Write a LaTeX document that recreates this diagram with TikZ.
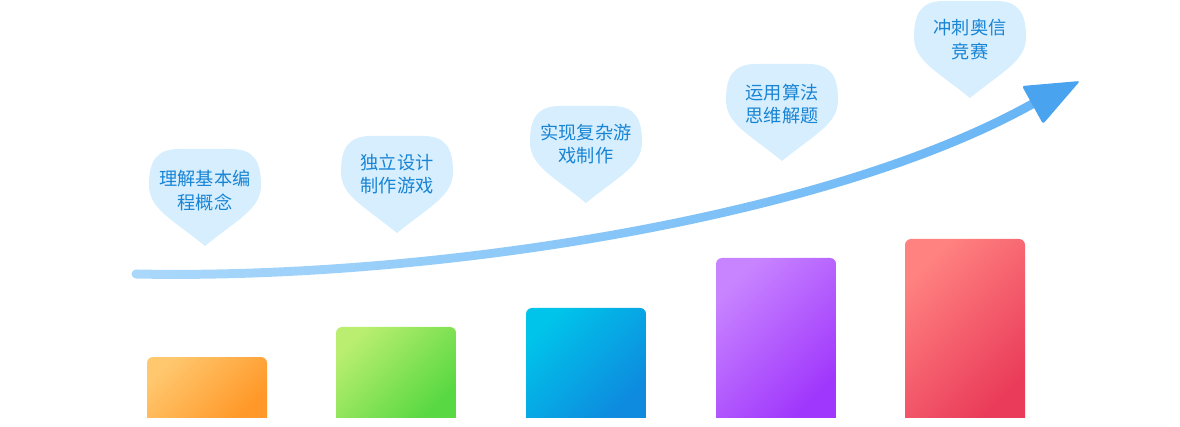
\documentclass[tikz,border=0pt]{standalone}
\usepackage{fontspec}
\usetikzlibrary{calc}
\newfontfamily\cjk{Noto Sans CJK SC}
\definecolor{bubblefill}{RGB}{214,238,254}
\definecolor{bubbletxt}{RGB}{24,132,212}
\definecolor{curveL}{RGB}{170,216,251}
\definecolor{curveR}{RGB}{104,181,245}
\definecolor{arrowc}{RGB}{74,163,238}
\definecolor{oA}{RGB}{255,199,110}\definecolor{oB}{RGB}{255,152,40}
\definecolor{gA}{RGB}{185,238,112}\definecolor{gB}{RGB}{88,216,66}
\definecolor{cA}{RGB}{0,196,234}\definecolor{cB}{RGB}{14,138,222}
\definecolor{pA}{RGB}{200,132,255}\definecolor{pB}{RGB}{160,55,252}
\definecolor{rA}{RGB}{255,130,128}\definecolor{rB}{RGB}{234,60,90}
\tikzset{
  bubble/.pic={\fill[bubblefill] (0,0) -- (26,0) .. controls (50,0) and (56,14) .. (56,36)
     .. controls (56,60) and (33,70) .. (0,97) .. controls (-33,70) and (-56,60) .. (-56,36)
     .. controls (-56,14) and (-50,0) .. (-26,0) -- cycle;},
  bubbletext/.style={text=bubbletxt, align=center, inner sep=0pt,
     font=\cjk\fontsize{18.2}{23.5}\selectfont},
}
\newcommand{\drawbar}[5]{%
  \begin{scope}
    \clip[rounded corners=6pt] (#1,#2) rectangle (#1+120,427);
    \shade[top color=#3, bottom color=#4, shading angle=45] (#1,#2) rectangle (#1+120,417);
  \end{scope}}
\begin{document}
\begin{tikzpicture}[x=1pt,y=-1pt]
\useasboundingbox (0,0) rectangle (1180,427);
% bars
\drawbar{147}{357}{oA}{oB}{}
\drawbar{336}{327}{gA}{gB}{}
\drawbar{526}{308}{cA}{cB}{}
\drawbar{716}{258}{pA}{pB}{}
\drawbar{905}{239}{rA}{rB}{}
% curve band
\coordinate (cs) at (136,274);
\coordinate (ce) at (1034,103);
\fill[curveL] (cs) circle[radius=4.5pt];
\shade[left color=curveL, right color=curveR]
  ($(cs)+(0,-4.5)$) .. controls (430,275.5) and (827.8,214.1) .. ($(ce)+(-2.2,-3.9)$)
  -- ($(ce)+(2.2,3.9)$) .. controls (832.2,221.9) and (430,284.5) .. ($(cs)+(0,4.5)$) -- cycle;
% arrow head
\coordinate (ha) at (1022,86);
\coordinate (hb) at (1080,81);
\coordinate (hc) at (1043,124);
\fill[arrowc, rounded corners=2.5pt] (ha) -- (hb) -- (hc) -- cycle;
% bubbles
\pic at (205,149) {bubble};
\pic at (397,136) {bubble};
\pic at (586,106) {bubble};
\pic at (782,64) {bubble};
\pic at (970,1) {bubble};
\node[bubbletext] (t1) at (205,190.5) {理解基本编\\程概念};
\node[bubbletext] (t2) at (397,174) {独立设计\\制作游戏};
\node[bubbletext] (t3) at (586,144) {实现复杂游\\戏制作};
\node[bubbletext] (t4) at (782,104) {运用算法\\思维解题};
\node[bubbletext] (t5) at (970,39.5) {冲刺奥信\\竞赛};
\end{tikzpicture}
\end{document}
